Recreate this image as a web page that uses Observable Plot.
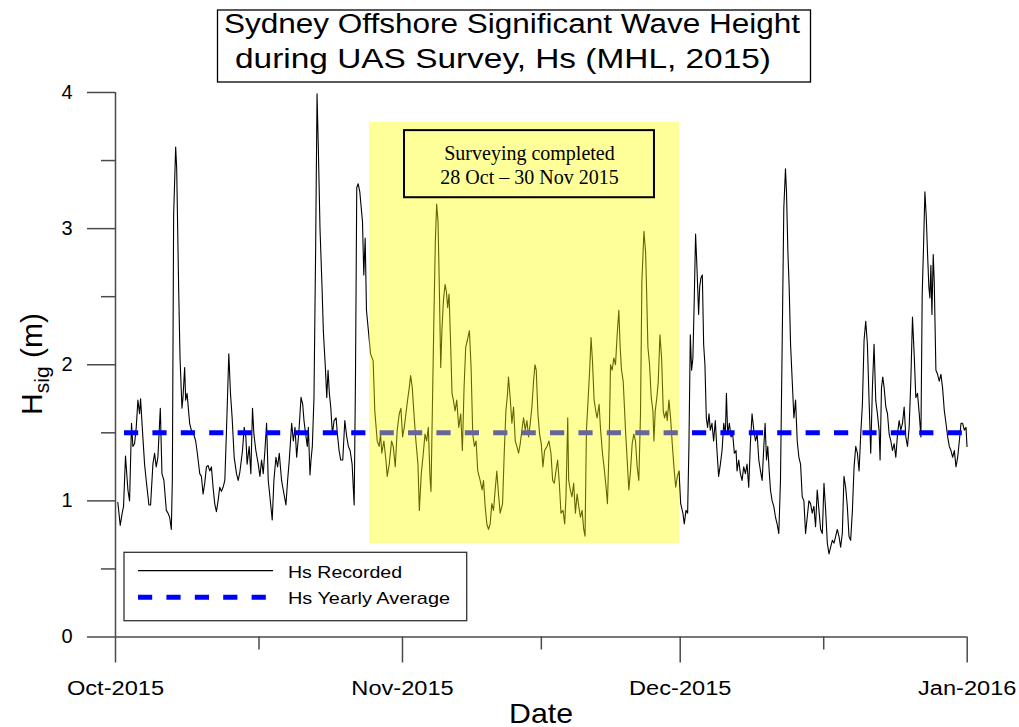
<!DOCTYPE html>
<html>
<head>
<meta charset="utf-8">
<script src="https://cdn.jsdelivr.net/npm/d3@7"></script>
<script src="https://cdn.jsdelivr.net/npm/@observablehq/plot@0.6"></script>
<style>
  body { margin: 0; background: #fff; }
  #chart { position: relative; width: 1019px; height: 727px; }
</style>
</head>
<body>
<div id="chart"></div>
<script>
// ---------------- data ----------------
const startDate = "2015-10-01T00:00:00Z";
// time of each reading, in days since 1 Oct 2015
const days = [
 0.25,0.51,0.72,0.87,1.08,1.34,1.52,1.73,1.88,2.06,2.24,2.42,2.60,2.71,2.89,3.14,3.32,3.61,3.79,4.04,
 4.22,4.40,4.58,4.84,5.02,5.23,5.49,5.67,5.85,6.03,6.14,6.28,6.50,6.61,6.82,6.97,7.18,7.29,7.47,7.58,
 7.73,8.01,8.19,8.45,8.66,8.84,9.10,9.28,9.46,9.64,9.82,10.00,10.18,10.36,10.54,10.72,10.90,11.08,11.26,11.44,
 11.62,11.81,11.99,12.24,12.42,12.60,12.82,13.07,13.25,13.43,13.72,13.90,14.08,14.22,14.44,14.62,14.80,14.95,15.16,15.42,
 15.60,15.78,15.96,16.14,16.32,16.50,16.68,16.93,17.11,17.33,17.51,17.69,17.94,18.12,18.41,18.59,18.77,19.03,19.21,19.39,
 19.57,19.82,20.04,20.22,20.36,20.54,20.72,20.83,21.01,21.12,21.26,21.44,21.62,21.77,21.91,22.09,22.31,22.45,22.67,22.82,
 22.96,23.10,23.25,23.43,23.61,23.83,23.97,24.15,24.33,24.55,24.77,24.98,25.16,25.34,25.56,25.78,25.92,26.06,26.21,26.39,
 26.68,26.82,26.97,27.11,27.29,27.55,27.83,28.01,28.27,28.48,28.63,28.77,28.99,29.21,29.35,29.57,29.82,30.00,30.22,30.43,
 30.65,30.83,31.01,31.19,31.37,31.55,31.73,31.88,32.06,32.24,32.45,32.67,32.82,33.03,33.25,33.43,33.61,33.79,33.97,34.08,
 34.22,34.40,34.55,34.69,34.84,34.98,35.13,35.27,35.42,35.60,35.74,35.88,36.03,36.21,36.35,36.50,36.68,36.86,37.08,37.29,
 37.47,37.65,37.83,38.01,38.23,38.41,38.59,38.77,38.95,39.13,39.39,39.60,39.75,39.93,40.11,40.29,40.47,40.65,40.83,41.01,
 41.19,41.37,41.55,41.81,41.99,42.17,42.35,42.45,42.63,42.82,43.00,43.18,43.36,43.54,43.72,43.90,44.08,44.26,44.44,44.62,
 44.80,44.98,45.16,45.31,45.45,45.63,45.81,45.99,46.17,46.35,46.61,46.82,47.04,47.22,47.40,47.58,47.76,47.94,48.12,48.34,
 48.52,48.66,48.85,48.95,49.13,49.31,49.49,49.68,49.86,50.04,50.22,50.40,50.58,50.72,50.87,51.05,51.23,51.37,51.52,51.70,
 51.88,52.02,52.24,52.38,52.60,52.82,52.99,53.14,53.32,53.47,53.65,53.83,54.01,54.19,54.37,54.51,54.66,54.84,55.09,55.27,
 55.45,55.63,55.81,55.99,56.17,56.35,56.53,56.71,56.86,57.08,57.26,57.36,57.51,57.69,57.87,58.05,58.16,58.30,58.48,58.63,
 58.81,58.99,59.17,59.31,59.49,59.60,59.78,59.96,60.14,60.32,60.51,60.69,60.87,61.05,61.29,61.44,61.62,61.80,61.94,62.09,
 62.23,62.37,62.52,62.66,62.81,62.99,63.10,63.24,63.39,63.53,63.67,63.82,63.96,64.11,64.25,64.43,64.61,64.79,64.97,65.15,
 65.34,65.52,65.70,65.88,65.99,66.13,66.31,66.49,66.67,66.85,67.03,67.14,67.32,67.50,67.68,67.86,68.04,68.22,68.40,68.58,
 68.76,68.95,69.13,69.31,69.49,69.67,69.85,70.03,70.17,70.32,70.46,70.61,70.75,70.93,71.11,71.29,71.47,71.65,71.83,72.01,
 72.19,72.37,72.48,72.63,72.77,72.92,73.10,73.28,73.46,73.64,73.82,74.00,74.18,74.36,74.54,74.72,74.90,75.08,75.26,75.44,
 75.62,75.80,75.99,76.17,76.35,76.53,76.71,76.89,77.07,77.25,77.43,77.61,77.79,77.97,78.15,78.33,78.51,78.69,78.87,79.05,
 79.23,79.41,79.60,79.78,79.96,80.14,80.32,80.50,80.68,80.86,81.04,81.22,81.40,81.58,81.76,81.94,82.12,82.30,82.48,82.59,
 82.74,82.88,83.03,83.21,83.39,83.57,83.75,83.93,84.11,84.29,84.47,84.65,84.83,85.01,85.19,85.37,85.55,85.73,85.91,86.09,
 86.27,86.45,86.63,86.82,87.00,87.14,87.28,87.43,87.57,87.72,87.86,87.97,88.08,88.19,88.33,88.44,88.62,88.80,88.98,89.16,
 89.34,89.53,89.71,89.89,90.07,90.25,90.43,90.61,90.79,90.97,91.15,91.33,91.51,91.69,91.87,91.98
];
// Hs recorded (m)
const hs = [
 0.99,0.82,0.91,0.96,1.33,1.08,1.00,1.57,1.40,1.42,1.54,1.74,1.64,1.75,1.54,1.27,1.15,0.97,0.97,1.27,
 1.35,1.25,1.32,1.68,1.20,1.15,0.93,0.91,0.88,0.79,1.15,3.10,3.60,3.44,2.57,2.05,1.68,1.76,1.98,1.74,
 1.79,1.57,1.52,1.49,1.44,1.35,1.20,1.18,1.05,1.13,1.25,1.26,1.22,1.25,1.10,0.98,0.92,1.00,1.10,1.07,
 1.10,1.15,1.52,2.08,1.79,1.61,1.32,1.20,1.15,1.21,1.37,1.54,1.47,1.27,1.40,1.20,1.68,1.49,1.37,1.27,
 1.18,1.30,1.20,1.37,1.57,1.15,1.03,0.86,1.15,1.32,1.25,1.35,1.15,1.08,0.97,1.15,1.30,1.57,1.44,1.54,
 1.32,1.52,1.76,1.71,1.59,1.49,1.40,1.54,1.19,1.30,1.40,1.76,2.86,3.99,3.59,3.00,2.57,2.25,1.98,1.76,
 1.96,1.79,1.69,1.49,1.59,1.61,1.49,1.37,1.30,1.30,1.59,1.47,1.40,1.37,1.27,0.97,1.88,3.30,3.33,3.27,
 3.05,2.66,2.93,2.40,2.27,2.08,2.03,1.66,1.44,1.40,1.49,1.35,1.44,1.30,1.18,1.27,1.44,1.40,1.25,1.52,
 1.64,1.68,1.47,1.54,1.64,1.74,1.83,1.92,1.83,1.64,1.44,1.27,0.93,1.20,1.35,1.49,1.44,1.54,1.18,1.07,
 1.64,2.37,2.91,3.18,3.05,2.57,1.98,2.27,2.47,2.59,2.54,2.42,2.52,2.13,1.79,1.74,1.66,1.74,1.54,1.64,
 1.37,1.83,2.13,2.18,2.25,1.98,1.49,1.40,1.44,1.22,1.15,1.08,1.15,0.96,0.83,0.79,0.83,0.98,0.93,1.08,
 1.22,1.05,0.91,0.98,1.35,1.66,1.79,1.91,1.76,1.57,1.69,1.44,1.40,1.35,1.42,1.52,1.61,1.52,1.59,1.47,
 1.57,1.69,1.88,2.00,1.96,1.64,1.49,1.42,1.25,1.37,1.40,1.44,1.35,1.15,1.13,1.22,1.30,1.13,0.91,0.93,
 0.83,1.03,1.61,1.15,1.08,1.03,1.13,0.91,1.05,0.96,0.88,0.93,0.79,0.74,1.52,1.74,1.98,2.20,2.03,1.74,
 1.66,1.61,1.71,1.54,1.35,1.22,1.10,0.98,1.40,2.00,1.96,2.05,2.00,2.22,2.40,2.13,1.96,1.88,1.52,1.30,
 1.08,1.22,1.42,1.49,1.44,1.25,1.15,1.64,2.61,2.98,2.83,2.57,2.13,2.00,1.76,1.66,1.44,1.66,1.76,1.88,
 2.22,2.05,1.66,1.61,1.66,1.59,1.74,1.61,1.42,1.25,1.10,1.18,1.22,0.98,0.91,0.83,0.93,0.91,1.40,2.22,
 1.96,2.05,2.49,2.96,2.71,2.37,2.57,2.64,2.66,2.15,2.00,1.61,1.54,1.64,1.52,1.57,1.44,1.59,1.37,1.18,
 1.27,1.37,1.57,1.49,1.79,1.49,1.57,1.47,1.49,1.35,1.37,1.22,1.30,1.20,1.15,1.25,1.20,1.27,1.10,1.42,
 1.64,1.52,1.44,1.49,1.30,1.22,1.15,1.40,1.57,1.30,1.40,1.22,1.08,1.00,0.96,0.88,0.83,0.76,1.15,2.13,
 3.15,3.44,3.27,2.83,2.57,2.15,1.88,1.61,1.74,1.44,1.32,1.27,1.03,1.00,0.76,0.88,1.00,0.98,0.91,0.96,
 0.81,1.08,0.93,0.79,0.76,1.13,0.93,0.69,0.61,0.66,0.71,0.69,0.74,0.79,0.74,0.66,0.76,1.18,1.10,0.96,
 0.74,0.71,0.93,1.25,1.40,1.35,1.22,1.49,1.71,2.18,2.32,2.15,1.74,1.35,1.83,2.15,1.74,1.64,1.52,1.30,
 1.83,1.91,1.83,1.69,1.64,1.49,1.44,1.37,1.42,1.32,1.49,1.59,1.52,1.57,1.69,1.47,1.40,1.54,1.88,2.35,
 2.08,1.76,1.79,1.64,1.47,2.52,2.86,3.27,3.10,2.81,2.57,2.49,2.73,2.37,2.81,2.61,1.96,1.93,1.88,1.93,
 1.83,1.66,1.57,1.47,1.40,1.37,1.32,1.37,1.25,1.32,1.44,1.57,1.57,1.52,1.54,1.40
];
const yearlyAverage = 1.5;
const monthTicks = ["2015-10-01", "2015-11-01", "2015-12-01", "2016-01-01"];
const monthLabels = ["Oct-2015", "Nov-2015", "Dec-2015", "Jan-2016"];
const minorTicks = ["2015-10-16T12:00Z", "2015-11-16T00:00Z", "2015-12-16T12:00Z"];
const yTicks = [0, 1, 2, 3, 4];
const yTickLabels = ["0", "1", "2", "3", "4"];
const yMinorTicks = [0.5, 1.5, 2.5, 3.5];
const surveyPeriod = [{start: "2015-10-28T10:30Z", end: "2015-11-30T22:00Z", low: 0.685, high: 3.78}];
const noteBox = [{start: "2015-11-01T05:15Z", end: "2015-11-28T05:15Z", low: 3.227, high: 3.72}];
const noteLines = [
  {text: "Surveying completed", at: "2015-11-14T17:15Z", y: 3.506},
  {text: "28 Oct \u2013 30 Nov 2015", at: "2015-11-14T17:15Z", y: 3.325}
];
const titleLines = ["Sydney Offshore Significant Wave Height", "during UAS Survey, Hs (MHL, 2015)"];
const legendLabels = ["Hs Recorded", "Hs Yearly Average"];
const xLabel = "Date";

// ---------------- build ----------------
const t0 = Date.parse(startDate);
const series = days.map((d, i) => ({date: new Date(t0 + d * 864e5), hs: hs[i]}));
const monthDates = monthTicks.map(s => new Date(s + "T00:00:00Z"));
const minorDates = minorTicks.map(s => new Date(s));
const axisColor = "#4a4a4a";
const sans = "'Liberation Sans', Arial, Helvetica, sans-serif";
const serif = "'Liberation Serif', 'Times New Roman', serif";

const plot = Plot.plot({
  width: 1019,
  height: 727,
  marginLeft: 115,
  marginRight: 52.3,
  marginTop: 92,
  marginBottom: 90.5,
  style: {fontFamily: sans, background: "white", overflow: "visible", color: "black"},
  x: {type: "utc", domain: [monthDates[0], monthDates[3]]},
  y: {domain: [0, 4]},
  marks: [
    Plot.line(series, {x: "date", y: "hs", stroke: "#000", strokeWidth: 1.1}),
    Plot.ruleY([yearlyAverage], {stroke: "#0000ff", strokeWidth: 5, strokeDasharray: "14.2,14.2", strokeDashoffset: 19.4}),
    Plot.rect(surveyPeriod, {x1: d => new Date(d.start), x2: d => new Date(d.end), y1: "low", y2: "high", fill: "#ffff00", fillOpacity: 0.4}),
    Plot.rect(noteBox, {x1: d => new Date(d.start), x2: d => new Date(d.end), y1: "low", y2: "high", fill: "none", stroke: "#000", strokeWidth: 2}),
    Plot.text(noteLines, {x: d => new Date(d.at), y: "y", text: "text", lineAnchor: "bottom", fontFamily: serif, fontSize: 20, fill: "#000"}),
    Plot.ruleX([monthDates[0]], {stroke: axisColor, strokeWidth: 1.5}),
    Plot.ruleY([0], {stroke: axisColor, strokeWidth: 1.5}),
    Plot.axisX({ticks: monthDates, tickSize: 26, tickPadding: 17.5, fontSize: 20, label: null,
      tickFormat: d => monthLabels[monthDates.findIndex(m => +m === +d)],
      stroke: axisColor, strokeWidth: 1.5}),
    Plot.axisX({ticks: minorDates, tickSize: 13, tickFormat: () => "", label: null, stroke: axisColor, strokeWidth: 1.5}),
    Plot.axisY({ticks: yTicks, tickSize: 28, tickPadding: 15, fontSize: 20, label: null,
      tickFormat: d => yTickLabels[yTicks.indexOf(d)], stroke: axisColor, strokeWidth: 1.5}),
    Plot.axisY({ticks: yMinorTicks, tickSize: 14, tickFormat: () => "", label: null, stroke: axisColor, strokeWidth: 1.5})
  ]
});

document.getElementById("chart").append(plot);
const svg = d3.select(plot);

// horizontal stretch of the x tick labels, like the reference
svg.selectAll('g[aria-label="x-axis tick label"] text').each(function () {
  const w = this.getComputedTextLength();
  if (w > 0) { this.setAttribute("textLength", (w * 1.18).toFixed(1)); this.setAttribute("lengthAdjust", "spacingAndGlyphs"); }
});

// title box
const tg = svg.append("g").attr("font-family", sans).attr("font-size", 27).attr("fill", "#000").attr("text-anchor", "start");
tg.append("rect").attr("x", 217.5).attr("y", 10).attr("width", 593).attr("height", 72)
  .attr("fill", "white").attr("stroke", "#000").attr("stroke-width", 1.3);
tg.append("text").attr("x", 224).attr("y", 33).attr("textLength", 576).attr("lengthAdjust", "spacingAndGlyphs").text(titleLines[0]);
tg.append("text").attr("x", 235).attr("y", 68).attr("textLength", 536).attr("lengthAdjust", "spacingAndGlyphs").text(titleLines[1]);

// y-axis label  H_sig (m)
const yl = svg.append("text").attr("font-family", sans).attr("font-size", 30).attr("fill", "#000")
  .attr("text-anchor", "middle").attr("transform", "translate(42,364) rotate(-90)");
yl.append("tspan").text("H");
yl.append("tspan").attr("font-size", 21).attr("dy", 7).text("sig");
yl.append("tspan").attr("dy", -7).text(" (m)");

// x-axis label
svg.append("text").attr("font-family", sans).attr("font-size", 28).attr("fill", "#000")
  .attr("x", 541).attr("y", 723).attr("text-anchor", "middle")
  .attr("textLength", 64).attr("lengthAdjust", "spacingAndGlyphs").text(xLabel);

// legend
const lg = svg.append("g").attr("font-family", sans).attr("font-size", 17).attr("fill", "#000").attr("text-anchor", "start");
lg.append("rect").attr("x", 124).attr("y", 552.3).attr("width", 342.7).attr("height", 68.4)
  .attr("fill", "white").attr("stroke", "#333").attr("stroke-width", 1.3);
lg.append("line").attr("x1", 138).attr("x2", 273).attr("y1", 570.7).attr("y2", 570.7)
  .attr("stroke", "#000").attr("stroke-width", 1.2);
lg.append("line").attr("x1", 138).attr("x2", 267).attr("y1", 597.3).attr("y2", 597.3)
  .attr("stroke", "#0000ff").attr("stroke-width", 5).attr("stroke-dasharray", "14.2,14.2");
lg.append("text").attr("x", 288).attr("y", 578).attr("textLength", 114).attr("lengthAdjust", "spacingAndGlyphs").text(legendLabels[0]);
lg.append("text").attr("x", 288).attr("y", 604).attr("textLength", 162).attr("lengthAdjust", "spacingAndGlyphs").text(legendLabels[1]);
</script>
</body>
</html>
